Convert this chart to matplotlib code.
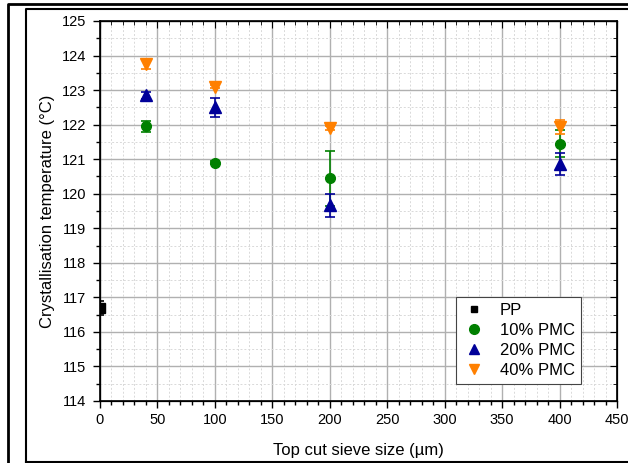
import matplotlib
matplotlib.use("Agg")
import matplotlib.pyplot as plt
from matplotlib.lines import Line2D
from matplotlib.ticker import MultipleLocator

plt.rcParams["font.family"] = ["Liberation Sans", "DejaVu Sans"]

# Data
pp_x = [0]
pp_y = [116.7]
pp_err = [0.2]

sieve_sizes = [40, 100, 200, 400]
pmc10_y = [121.95, 120.9, 120.45, 121.45]
pmc10_err = [0.15, 0.05, 0.8, 0.4]
pmc20_y = [122.85, 122.5, 119.67, 120.86]
pmc20_err = [0.1, 0.28, 0.33, 0.33]
pmc40_y = [123.75, 123.1, 121.9, 121.92]
pmc40_err = [0.15, 0.05, 0.05, 0.2]

SERIES = [
    ("10% PMC", pmc10_y, pmc10_err, "o", "#008000", 7),
    ("20% PMC", pmc20_y, pmc20_err, "^", "#000099", 8),
    ("40% PMC", pmc40_y, pmc40_err, "v", "#ff8000", 8),
]

fig = plt.figure(figsize=(6.28, 4.63), dpi=100)
ax = fig.add_axes([100 / 628, 62 / 463, 517 / 628, 380 / 463])

# Outer frames of the screenshot
fig.add_artist(Line2D([7.5 / 628, 7.5 / 628, 1.0], [0.0, 1 - 4 / 463, 1 - 4 / 463],
                      transform=fig.transFigure, color="black", lw=2))
fig.add_artist(Line2D([26 / 628, 26 / 628, 1.0], [1 / 463, 1 - 9 / 463, 1 - 9 / 463],
                      transform=fig.transFigure, color="black", lw=1.5))
fig.add_artist(Line2D([26 / 628, 1.0], [1 / 463, 1 / 463],
                      transform=fig.transFigure, color="black", lw=1.5))

# Grid
ax.xaxis.set_major_locator(MultipleLocator(50))
ax.xaxis.set_minor_locator(MultipleLocator(10))
ax.yaxis.set_major_locator(MultipleLocator(1))
ax.yaxis.set_minor_locator(MultipleLocator(0.5))
ax.grid(which="major", color="#b0b0b0", lw=1.0, ls="-")
ax.grid(which="minor", color="#d9d9d9", lw=0.7, ls=(0, (2, 2)))
ax.set_axisbelow(True)

# PP reference
ax.errorbar(pp_x, pp_y, yerr=pp_err, fmt="s", color="black", ms=7,
            capsize=3, elinewidth=1.2, capthick=1.2, clip_on=True, zorder=3)

for label, y, err, marker, color, ms in SERIES:
    ax.errorbar(sieve_sizes, y, yerr=err, fmt=marker, color=color, ms=ms,
                capsize=3.5, elinewidth=1.2, capthick=1.2, zorder=3)

ax.set_xlim(0, 450)
ax.set_ylim(114, 125)

ax.tick_params(which="both", labelsize=10.5, width=1, direction="out",
               top=False, right=False)
ax.tick_params(which="major", length=5)
ax.tick_params(which="minor", length=3)
ax.tick_params(axis="y", pad=5)
for spine in ax.spines.values():
    spine.set_linewidth(1.2)

# Mirror ticks drawn inward on top/right
ax2 = ax.twinx()
ax2.set_ylim(114, 125)
ax2.yaxis.set_major_locator(MultipleLocator(1))
ax2.yaxis.set_minor_locator(MultipleLocator(0.5))
ax2.tick_params(which="both", direction="in", labelright=False)
ax2.tick_params(which="major", length=5)
ax2.tick_params(which="minor", length=3)
ax3 = ax.twiny()
ax3.set_xlim(0, 450)
ax3.xaxis.set_major_locator(MultipleLocator(50))
ax3.xaxis.set_minor_locator(MultipleLocator(10))
ax3.tick_params(which="both", direction="in", labeltop=False)
ax3.tick_params(which="major", length=5)
ax3.tick_params(which="minor", length=3)

ax.set_xlabel("Top cut sieve size (µm)", fontsize=12, labelpad=12)
ax.set_ylabel("Crystallisation temperature (°C)", fontsize=12, labelpad=5)

handles = [
    Line2D([], [], ls="none", marker="s", color="black", ms=5, label="PP"),
    Line2D([], [], ls="none", marker="o", color="#008000", ms=7, label="10% PMC"),
    Line2D([], [], ls="none", marker="^", color="#000099", ms=7, label="20% PMC"),
    Line2D([], [], ls="none", marker="v", color="#ff8000", ms=7, label="40% PMC"),
]
leg = ax3.legend(handles=handles, loc="lower left", bbox_to_anchor=(0.688, 0.045),
                 bbox_transform=ax.transAxes, borderaxespad=0,
                 fontsize=12, frameon=True, fancybox=False, framealpha=1,
                 edgecolor="#444444", handletextpad=0.8, labelspacing=0.3,
                 borderpad=0.35, handlelength=1.5)
leg.get_frame().set_linewidth(0.8)
leg.set_zorder(10)

fig.savefig("out.png", dpi=100)
